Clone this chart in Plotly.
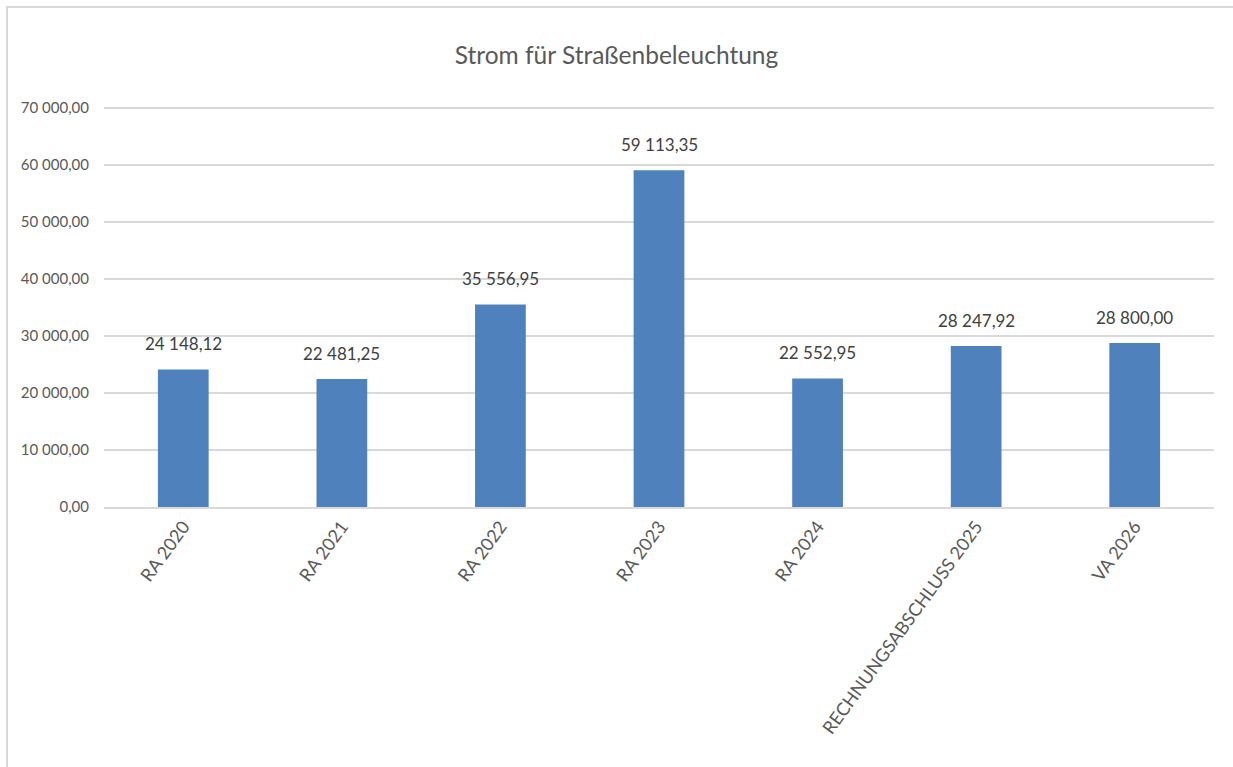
import plotly.graph_objects as go

categories = ["RA 2020", "RA 2021", "RA 2022", "RA 2023", "RA 2024",
              "RECHNUNGSABSCHLUSS 2025", "VA 2026"]
values = [24148.12, 22481.25, 35556.95, 59113.35, 22552.95, 28247.92, 28800.00]
y_ticks = [0, 10000, 20000, 30000, 40000, 50000, 60000, 70000]

W, H = 1233, 767
L, R, T, B = 104, 19, 107, 260
pw, ph = W - L - R, H - T - B
YMAX = 70200

FONT = "Lato"


def fmt(v):
    return f"{v:,.2f}".replace(",", " ").replace(".", ",")


fig = go.Figure(go.Bar(
    x=categories, y=values,
    marker=dict(color="#4f81bd", line=dict(width=0)),
    width=0.32, hoverinfo="skip",
))

for c, v in zip(categories, values):
    fig.add_annotation(x=c, y=v, text=fmt(v), showarrow=False,
                       yanchor="bottom", yshift=13,
                       font=dict(family=FONT, size=17, color="#404040"))

fig.update_layout(
    width=W, height=H,
    margin=dict(l=L, r=R, t=T, b=B),
    paper_bgcolor="white", plot_bgcolor="white",
    separators=", ",
    font=dict(family=FONT, color="#595959"),
    title=dict(text="Strom für Straßenbeleuchtung", x=0.5, xanchor="center",
               y=1 - 55 / H, yanchor="middle",
               font=dict(family=FONT, size=24.5, color="#595959")),
    showlegend=False,
    xaxis=dict(tickangle=-54, tickfont=dict(size=18, color="#595959"),
               showline=True, linecolor="#d9d9d9", linewidth=2, ticks="",
               showgrid=False),
    yaxis=dict(range=[0, YMAX], tickvals=y_ticks, tickformat=",.2f",
               tickfont=dict(size=15, color="#595959"),
               gridcolor="#d9d9d9", gridwidth=2, zeroline=False,
               showline=False, ticks="", ticklabelstandoff=14),
    shapes=[dict(type="rect", xref="paper", yref="paper",
                 x0=(7 - L) / pw, x1=1.2, y0=-1.0, y1=(H - B - 7) / ph,
                 line=dict(color="#d9d9d9", width=2), layer="below")],
)

fig.write_html("out.html", config={"displayModeBar": False},
               post_script="document.body.style.margin='0';"
                           "document.body.style.overflow='hidden';")
